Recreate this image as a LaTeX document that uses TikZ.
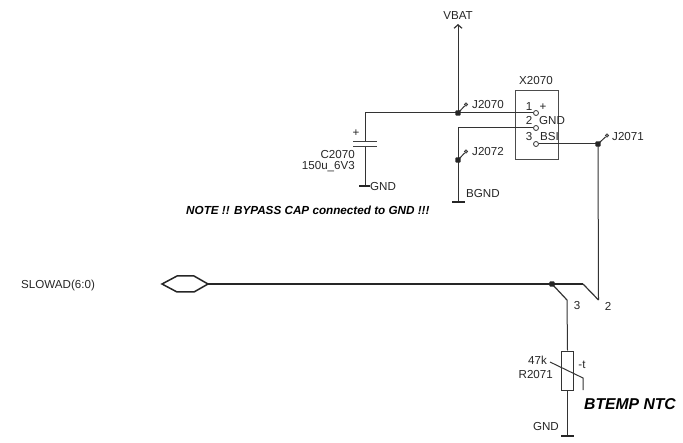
\documentclass[tikz,border=0pt]{standalone}
\usepackage{fontspec}
\usetikzlibrary{arrows.meta}
\setmainfont{Liberation Sans}
\begin{document}
\begin{tikzpicture}[x=1bp,y=-1bp,
  wire/.style={line width=1bp,draw=black!80},
  bus/.style={line width=1.5bp,draw=black!85},
  lbl/.style={inner sep=0pt,font=\fontsize{11.6bp}{13bp}\selectfont,text=black!85},
  dot/.style={rectangle,rounded corners=0.8bp,fill=black!85,minimum size=5.2bp,inner sep=0pt},
  jflag/.style={circle,draw=black!80,fill=black!50,minimum size=3.6bp,inner sep=0pt,line width=0.6bp},
  pin/.style={circle,draw=black!80,fill=white,minimum size=5bp,inner sep=0pt,line width=0.8bp},
  gbar/.style={line width=1.2bp,draw=black!85},
  plate/.style={line width=0.9bp,draw=black!75}]
\useasboundingbox (0,0) rectangle (683,443);
% connector box
\node[draw=black!70,line width=1bp,minimum width=43bp,minimum height=69bp,inner sep=0pt] (X) at (536.5,125.5) {};
\node[lbl] (Xl) at (536,81) {X2070};
% coordinates
\coordinate (vbat) at (458,24);
\node[jflag] (f70) at (466,104.5) {};
\node[jflag] (f72) at (466,151.5) {};
\node[jflag] (f71) at (607,135.5) {};
\node[pin] (p1) at (536,113) {};
\node[pin] (p2) at (536,128) {};
\node[pin] (p3) at (536,144) {};
\coordinate (j70c) at (458,113);
\coordinate (j72c) at (458,160);
\coordinate (j71c) at (598,144);
\coordinate (jbc) at (552,284);
\coordinate (capt) at (365,113);
\coordinate (capa) at (365,141.5);
\coordinate (capb) at (365,146);
\coordinate (capg) at (365,186);
\coordinate (bcor) at (458,128);
\coordinate (bg) at (458,202);
\coordinate (bus2) at (583,284);
\coordinate (e2) at (598.5,300);
\coordinate (e3) at (567,300);
% hexagon port
\node[inner sep=0pt] (port) at (208,284) {};
\draw[bus] (port.center) -- (194,292) -- (177,292) -- (162,284) -- (177,276) -- (194,276) -- cycle;
% wires
\draw[wire,-{Straight Barb[length=3.5bp,width=8bp,line width=1.2bp]}] (j70c) -- (vbat);
\draw[wire] (capa) -- (capt) -- (p1);
\draw[wire] (capb) -- (capg);
\draw[wire] (p2) -- (bcor) -- (bg);
\draw[wire] (j70c) -- (f70);
\draw[wire] (j72c) -- (f72);
\draw[wire] (j71c) -- (f71);
\draw[wire] (p3) -- (j71c);
\draw[wire] (j71c) -- (e2);
\draw[bus] (port.center) -- (bus2);
\draw[wire,line width=1.2bp] (bus2) -- (e2);
\draw[wire,line width=1.2bp] (jbc) -- (e3);
\node[dot] (j70) at (j70c) {};
\node[dot] (j72) at (j72c) {};
\node[dot] (j71) at (j71c) {};
\node[dot] (jb) at (jbc) {};
% capacitor
\draw[plate] (353,141.5) -- (377,141.5);
\draw[plate] (353,146) -- (377,146);
\draw[gbar] (359,186) -- (370,186);
\draw[gbar] (452,202) -- (465,202);
% resistor
\node[draw=black!80,line width=1bp,minimum width=12bp,minimum height=39bp,inner sep=0pt] (R) at (567.5,370.5) {};
\coordinate (rg) at (567.5,436);
\coordinate (s1) at (550,362);
\coordinate (s2) at (583,378);
\coordinate (s3) at (583,390);
\draw[wire] (e3) -- (R.north);
\draw[wire] (R.south) -- (rg);
\draw[wire] (s1) -- (s2) -- (s3);
\draw[gbar] (561,436) -- (574,436);
% labels
\node[lbl] (lv) at (458,16) {VBAT};
\node[lbl,anchor=west] (l70) at (472,105) {J2070};
\node[lbl,anchor=west] (l72) at (472,152) {J2072};
\node[lbl,anchor=west] (l71) at (612,137) {J2071};
\node[lbl] (lp) at (356,133) {+};
\node[lbl,anchor=east] (lc) at (355,155) {C2070};
\node[lbl,anchor=east] (lcv) at (355,167) {150u\_6V3};
\node[lbl,anchor=west] (lg1) at (370,187) {GND};
\node[lbl,anchor=west] (lbg) at (466,194) {BGND};
\node[lbl] (n1) at (529,106.5) {1};
\node[lbl] (np) at (543,107) {+};
\node[lbl] (n2) at (529,120.5) {2};
\node[lbl,anchor=west] (ng) at (539,121) {GND};
\node[lbl] (n3) at (529,137) {3};
\node[lbl,anchor=west] (nb) at (540,137) {BSI};
\node[lbl,anchor=west] (ls) at (21,285) {SLOWAD(6:0)};
\node[inner sep=0pt,anchor=west,font=\fontsize{11.7bp}{13bp}\selectfont\bfseries\itshape] (note) at (186,210) {NOTE !! BYPASS CAP connected to GND !!!};
\node[lbl] (l3) at (577,306) {3};
\node[lbl] (l2) at (608,306) {2};
\node[lbl,anchor=east] (l47) at (547,360) {47k};
\node[lbl,anchor=east] (lr) at (553,375) {R2071};
\node[lbl] (lt) at (582,365) {-t};
\node[lbl,anchor=east] (lg2) at (559,427) {GND};
\node[inner sep=0pt,anchor=west,font=\fontsize{15.7bp}{18bp}\selectfont\bfseries\itshape] (bt) at (584,404) {BTEMP NTC};
\end{tikzpicture}
\end{document}
